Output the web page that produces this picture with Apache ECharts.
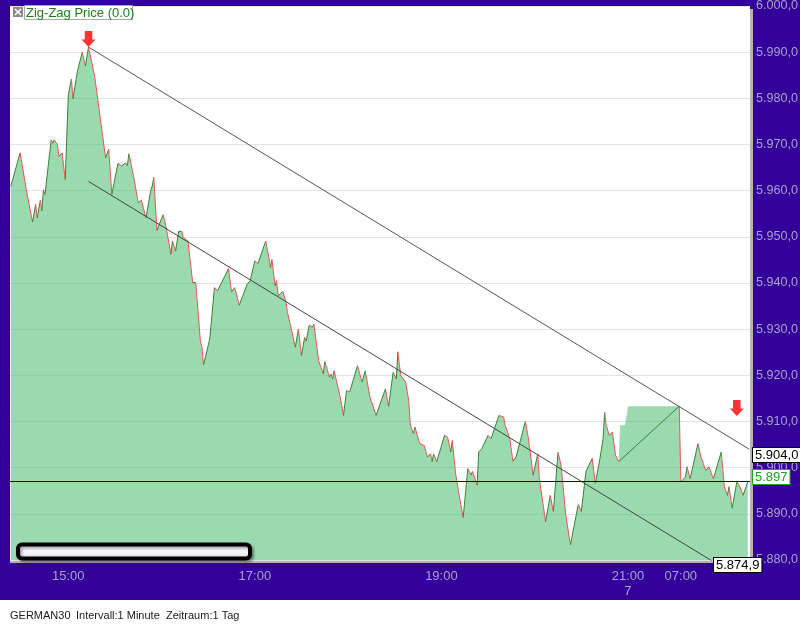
<!DOCTYPE html>
<html><head><meta charset="utf-8">
<script src="https://cdn.jsdelivr.net/npm/echarts@6/dist/echarts.min.js"></script>
<style>html,body{margin:0;padding:0;background:#fff}#c{width:800px;height:625px}</style>
</head><body><div id="c"></div>
<script>
// ---- data ----
const sessions = [['14:23','21:33'],['07:00','07:44']];
const tickLabels = ['15:00','17:00','19:00','21:00','07:00'];
const tickSubLabels = ['','','','7',''];
const lineIdx = [0,6,10,14,16,17,19,20,21,22,26,27,28,30,31,33,35,37,39,40,43,46,48,50,54,56,58,61,63,65,69,71,74,75,76,79,82,84,87,90,91,92,94,98,100,103,104,106,108,110,111,114,117,119,122,123,124,128,131,133,140,142,144,147,152,154,157,159,164,166,167,168,170,171,172,175,177,178,181,183,185,187,189,190,192,194,195,198,201,202,205,206,207,208,212,214,216,218,223,226,228,231,235,241,243,246,248,249,250,251,254,256,257,259,260,263,266,268,270,271,272,274,279,281,283,284,286,288,291,294,296,297,300,301,303,307,309,314,317,318,321,323,325,331,333,336,339,340,344,347,349,352,354,357,360,365,367,370,374,376,379,381,382,383,385,387,389,391,430,431,434,435,437,442,444,447,449,452,457,459,461,462,464,467,469,471,474];
const lineVal = [5960.9,5968.2,5960.2,5953.2,5957.0,5954.1,5957.9,5955.6,5960.2,5959.2,5971.0,5970.3,5971.0,5970.0,5967.4,5968.2,5962.4,5980.7,5984.2,5979.9,5986.1,5990.0,5987.0,5991.1,5984.7,5979.7,5974.6,5967.1,5969.0,5959.2,5966.0,5965.3,5966.0,5965.4,5968.0,5963.1,5957.4,5957.9,5954.1,5960.0,5961.0,5962.9,5951.4,5954.8,5952.0,5946.2,5949.1,5946.9,5951.2,5951.2,5949.8,5949.1,5940.1,5940.1,5927.2,5926.1,5922.3,5927.9,5939.0,5938.3,5943.1,5938.1,5939.0,5935.2,5939.7,5940.5,5944.8,5944.2,5949.1,5945.5,5943.3,5945.1,5939.4,5940.5,5937.2,5938.2,5935.8,5933.6,5929.2,5926.1,5930.0,5924.3,5928.2,5927.4,5930.9,5930.4,5931.1,5923.2,5920.3,5923.0,5919.6,5920.3,5919.2,5921.0,5915.1,5911.3,5916.7,5916.4,5922.1,5918.5,5921.0,5915.3,5911.3,5917.1,5913.3,5920.7,5919.2,5925.1,5922.1,5919.9,5918.5,5914.5,5909.2,5907.4,5908.8,5905.2,5904.8,5902.3,5903.0,5901.3,5903.0,5901.3,5907.0,5906.6,5903.4,5905.9,5899.1,5894.8,5889.2,5899.8,5898.4,5899.2,5896.2,5903.4,5904.1,5907.0,5906.3,5911.3,5911.0,5909.2,5906.3,5901.4,5902.3,5910.0,5906.3,5898.4,5903.0,5897.6,5888.3,5894.0,5890.5,5903.3,5900.5,5889.7,5883.3,5892.0,5890.5,5899.2,5902.0,5896.6,5902.0,5906.3,5912.0,5909.2,5907.0,5907.7,5902.7,5901.3,5913.3,5896.9,5898.0,5900.2,5897.6,5905.2,5902.3,5899.4,5900.2,5897.6,5903.4,5895.9,5894.0,5895.9,5891.2,5896.9,5895.9,5894.0,5896.9];
const gapIdx = [392,395,396,397];
const gapVal = [5909.2,5909.2,5911.0,5913.3];
const upperIdx = [50,475];
const upperVal = [5991.1,5904.0];
const lowerIdx = [50,475];
const lowerVal = [5962.0,5874.9];
const lastPrice = 5897;
const arrowIdx = [50,467];
const arrowVal = [5991.1,5911.2];
const yMin = 5880, yMax = 6000, yStep = 10;

// ---- build ----
function buildCats(){
  const out=[];
  sessions.forEach(([a,b])=>{
    let [h,m]=a.split(':').map(Number); const [h2,m2]=b.split(':').map(Number);
    while(h*60+m <= h2*60+m2){
      out.push(String(h).padStart(2,'0')+':'+String(m).padStart(2,'0'));
      m++; if(m===60){m=0;h++;}
    }
  });
  return out;
}
const cats = buildCats();
const linePairs = lineIdx.map((x,i)=>[x,lineVal[i]]);
const areaPairs = linePairs.concat(gapIdx.map((x,i)=>[x,gapVal[i]])).sort((a,b)=>a[0]-b[0]);
const segs = [];
for(let i=0;i<lineIdx.length-1;i++) segs.push([lineIdx[i],lineVal[i],lineIdx[i+1],lineVal[i+1]]);
const fmtY = v => Math.floor(v/1000)+'.'+String(Math.round(v%1000)).padStart(3,'0')+',0';
const FONT = "'Liberation Sans', Arial, sans-serif";
const labCol = '#a9a2cc';

const chart = echarts.init(document.getElementById('c'), null, {renderer:'canvas'});
chart.setOption({
  animation:false,
  backgroundColor:'#330099',
  grid:{left:10, top:6, width:740, height:554, show:true, backgroundColor:'#ffffff', borderWidth:0,
    containLabel:false, outerBoundsMode:'none'},
  xAxis:{type:'category', data:cats, boundaryGap:true,
    axisLine:{show:false}, axisTick:{show:false}, splitLine:{show:false},
    axisLabel:{color:labCol, fontSize:13, fontFamily:FONT, margin:9, lineHeight:15,
      interval:(i,v)=>tickLabels.includes(v),
      formatter:(v)=>{const k=tickLabels.indexOf(v); return (k>=0 && tickSubLabels[k]) ? v+'\n'+tickSubLabels[k] : v;}}},
  yAxis:{type:'value', position:'right', min:yMin, max:yMax, interval:yStep,
    axisLine:{show:false}, axisTick:{show:false},
    splitLine:{lineStyle:{color:'#e4e4e4', width:1}},
    axisLabel:{color:labCol, fontSize:12.6, fontFamily:FONT, margin:6, formatter:fmtY}},
  series:[
    {type:'line', data:areaPairs, symbol:'none', silent:true, z:1,
      lineStyle:{width:0}, areaStyle:{color:'rgba(73,186,110,0.55)', opacity:1},
      markLine:{symbol:['none','none'], silent:true, animation:false,
        lineStyle:{color:'#000070', width:1, type:'solid'}, label:{show:false},
        data:[{yAxis:lastPrice}]}},
    {type:'custom', data:segs, z:3, silent:true, clip:true,
      encode:{x:[0,2], y:[1,3]},
      renderItem:(params, api)=>{
        const p0=api.coord([api.value(0),api.value(1)]);
        const p1=api.coord([api.value(2),api.value(3)]);
        const up=api.value(3)>=api.value(1);
        return {type:'line', shape:{x1:p0[0],y1:p0[1],x2:p1[0],y2:p1[1]},
          style:{stroke: up?'#358535':'#f05555', lineWidth:1}};
      }},
    {type:'line', data:upperIdx.map((x,i)=>[x,upperVal[i]]), symbol:'none', silent:true, z:4,
      lineStyle:{color:'#555555', width:1}},
    {type:'line', data:lowerIdx.map((x,i)=>[x,lowerVal[i]]), symbol:'none', silent:true, z:4, clip:true,
      lineStyle:{color:'#444444', width:1}},
    {type:'scatter', data:arrowIdx.map((x,i)=>[x,arrowVal[i]]), silent:true, z:6,
      symbol:'path://M3,0 L10,0 L10,8 L13,8 L6.5,15 L0,8 L3,8 Z', symbolSize:[14,16], symbolOffset:[0,-8],
      itemStyle:{color:'#ff0000'}}
  ],
  graphic:[
    {type:'rect', z:-1, shape:{x:750,y:9,width:3,height:554}, style:{fill:'#b4b4b4'}},
    {type:'rect', z:-1, shape:{x:10,y:560,width:743,height:3}, style:{fill:'#b4b4b4'}},
    {type:'rect', z:10, shape:{x:24.5,y:5.5,width:108,height:14}, style:{fill:'#ffffff', stroke:'#a8a8a8', lineWidth:1}},
    {type:'text', z:11, x:26, y:13, style:{text:'Zig-Zag Price (0.0)', fill:'#1a801a', font:'13px '+FONT, textVerticalAlign:'middle'}},
    {type:'rect', z:10, shape:{x:13,y:7,width:10,height:10}, style:{fill:'#8a8a8a'}},
    {type:'line', z:11, shape:{x1:15,y1:9,x2:21,y2:15}, style:{stroke:'#ffffff', lineWidth:1.5}},
    {type:'line', z:11, shape:{x1:21,y1:9,x2:15,y2:15}, style:{stroke:'#ffffff', lineWidth:1.5}},
    {type:'rect', z:10, shape:{x:18,y:544.5,width:232,height:14,r:4},
      style:{fill:new echarts.graphic.LinearGradient(0,0,0,1,[{offset:0,color:'#ffffff'},{offset:0.6,color:'#f4f4fa'},{offset:1,color:'#c8c4dc'}]),
        stroke:'#000000', lineWidth:4, shadowBlur:3, shadowColor:'rgba(0,0,0,0.35)', shadowOffsetX:2, shadowOffsetY:2}},
    {type:'text', z:20, x:753, y:448, style:{text:'5.904,0', fill:'#000', font:'13px '+FONT, backgroundColor:'#fff', borderColor:'#000', borderWidth:1, padding:[1,2,0,2]}},
    {type:'text', z:20, x:753, y:470, style:{text:'5.897', fill:'#1fa01f', font:'13px '+FONT, backgroundColor:'#fff', borderColor:'#1fa01f', borderWidth:1, padding:[1,2,0,2]}},
    {type:'text', z:20, x:714, y:558, style:{text:'5.874,9', fill:'#000', font:'13px '+FONT, backgroundColor:'#fff', borderColor:'#000', borderWidth:1, padding:[1,2,0,2]}},
    {type:'rect', z:5, shape:{x:0,y:600,width:800,height:25}, style:{fill:'#ffffff'}},
    {type:'text', z:6, x:10, y:616, style:{text:'GERMAN30', fill:'#1a1a1a', font:'11px '+FONT, textVerticalAlign:'middle'}},
    {type:'text', z:6, x:76, y:616, style:{text:'Intervall:1 Minute', fill:'#1a1a1a', font:'11px '+FONT, textVerticalAlign:'middle'}},
    {type:'text', z:6, x:166, y:616, style:{text:'Zeitraum:1 Tag', fill:'#1a1a1a', font:'11px '+FONT, textVerticalAlign:'middle'}}
  ]
});
</script></body></html>
